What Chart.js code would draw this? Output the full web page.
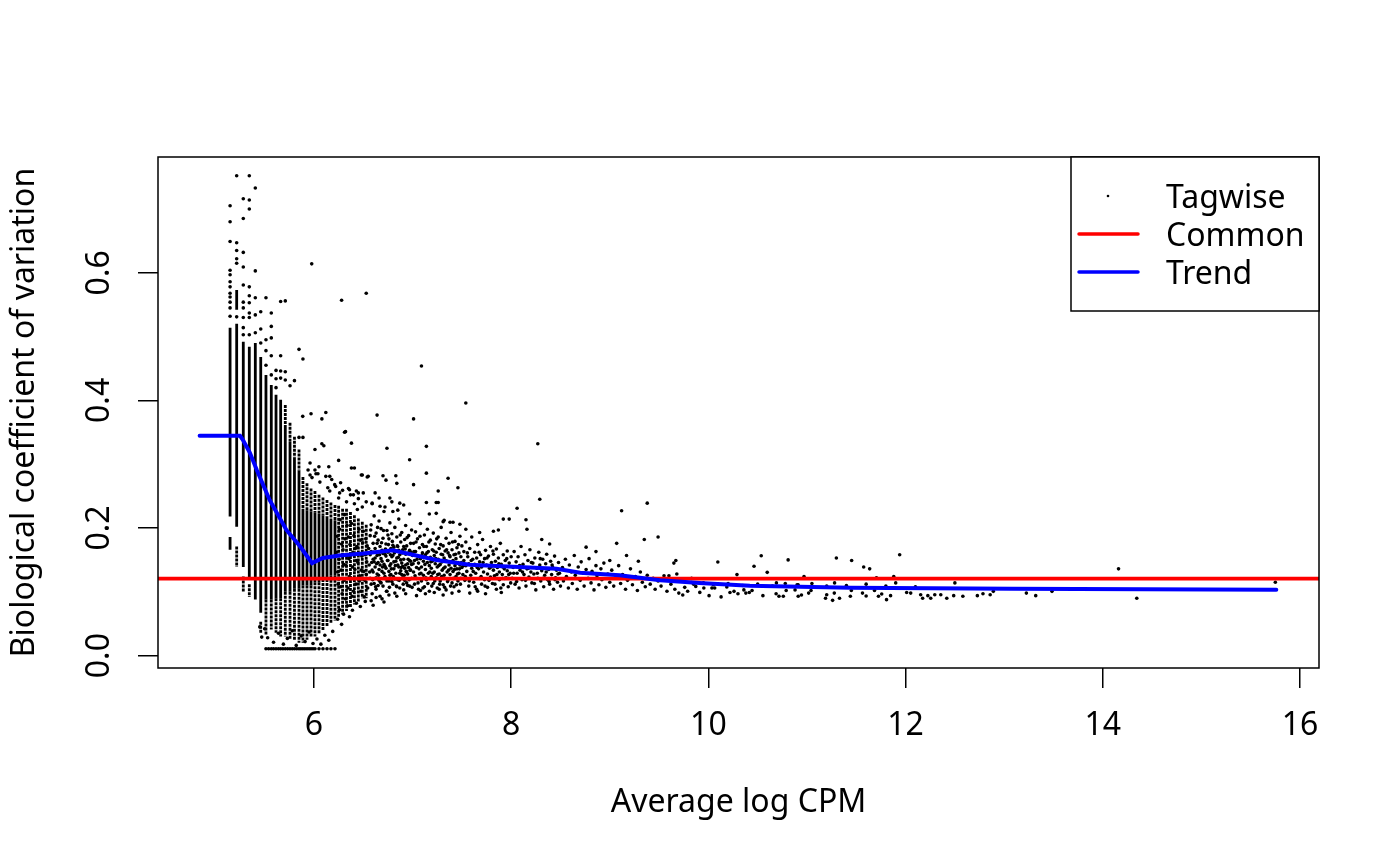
<!DOCTYPE html>
<html>
<head>
<meta charset="utf-8">
<script src="https://cdn.jsdelivr.net/npm/chart.js@4.4.1/dist/chart.umd.min.js"></script>
<style>html,body{margin:0;padding:0;background:#fff;}canvas{display:block;}</style>
</head>
<body>
<canvas id="c" width="1400" height="865"></canvas>
<script>
// ---------- data ----------
const xTicks = [6, 8, 10, 12, 14, 16];
const yTicks = [0.0, 0.2, 0.4, 0.6];
const xLimits = [4.418, 16.193];
const yLimits = [-0.0194, 0.7815];
const commonBCV = 0.1206;

const trendX = [4.84, 5.25, 5.28, 5.35, 5.42, 5.55, 5.72, 5.86, 5.98, 6.09, 6.26, 6.50, 6.80, 7.24, 7.58, 8.46, 8.70, 9.10, 9.51, 9.91, 10.42, 11.44, 13.07, 15.76];
const trendY = [0.3445, 0.3445, 0.338, 0.318, 0.291, 0.244, 0.197, 0.171, 0.145, 0.153, 0.157, 0.160, 0.165, 0.150, 0.1425, 0.136, 0.130, 0.126, 0.118, 0.114, 0.1096, 0.1065, 0.105, 0.1034];

// low-count genes stack into vertical columns: [x, yTop, yBottom]
const columnDense = [
  [5.149,0.514,0.218],[5.149,0.186,0.166],
  [5.216,0.573,0.542],[5.216,0.520,0.202],
  [5.283,0.492,0.139],[5.344,0.484,0.119],[5.405,0.490,0.088],[5.460,0.468,0.067],
  [5.513,0.440,0.088],[5.567,0.424,0.088],[5.615,0.409,0.090],[5.662,0.401,0.090],
  [5.709,0.360,0.100],[5.757,0.335,0.100],[5.802,0.310,0.105],[5.848,0.290,0.105],
  [5.888,0.230,0.110],[5.929,0.228,0.110],[5.970,0.226,0.110],[6.010,0.224,0.115],
  [6.051,0.222,0.115],[6.091,0.220,0.120],[6.132,0.218,0.120],[6.172,0.215,0.125],[6.213,0.212,0.125]
];
const columnSparse = [
  [5.216,0.171,0.139],[5.283,0.124,0.099],[5.344,0.112,0.092],[5.460,0.053,0.036],
  [5.513,0.088,0.033],[5.567,0.088,0.041],[5.615,0.090,0.036],[5.662,0.090,0.030],
  [5.709,0.393,0.360],[5.709,0.100,0.030],[5.757,0.365,0.335],[5.757,0.100,0.025],
  [5.802,0.343,0.310],[5.802,0.105,0.025],[5.848,0.323,0.290],[5.848,0.105,0.020],
  [5.888,0.280,0.230],[5.888,0.110,0.020],[5.929,0.270,0.228],[5.929,0.110,0.025],
  [5.970,0.262,0.226],[5.970,0.110,0.030],[6.010,0.258,0.224],[6.010,0.115,0.030],
  [6.051,0.252,0.222],[6.051,0.115,0.035],[6.091,0.248,0.220],[6.091,0.120,0.040],
  [6.132,0.244,0.218],[6.132,0.120,0.045],[6.172,0.240,0.215],[6.172,0.125,0.050],
  [6.213,0.236,0.212],[6.213,0.125,0.055],
  [6.25,0.235,0.060],[6.29,0.230,0.065],[6.33,0.230,0.070],[6.37,0.225,0.075],
  [6.41,0.220,0.080],[6.45,0.215,0.085],[6.49,0.210,0.090],[6.53,0.205,0.090]
];

// individual tagwise points [x, y]
const tagwiseSparse = [
  [5.149,0.705],[5.149,0.680],[5.149,0.649],[5.149,0.604],[5.149,0.597],[5.149,0.586],[5.149,0.578],[5.149,0.568],[5.149,0.562],[5.149,0.554],[5.149,0.545],[5.149,0.532],
  [5.216,0.752],[5.216,0.647],[5.216,0.635],[5.216,0.622],[5.216,0.615],[5.216,0.531],
  [5.283,0.716],[5.283,0.685],[5.283,0.632],[5.283,0.609],[5.283,0.581],[5.283,0.554],[5.283,0.545],[5.283,0.530],[5.283,0.514],[5.283,0.503],
  [5.344,0.752],[5.344,0.714],[5.344,0.700],[5.344,0.578],[5.344,0.564],[5.344,0.553],[5.344,0.537],[5.344,0.530],[5.344,0.503],
  [5.405,0.733],[5.405,0.603],[5.405,0.561],[5.405,0.534],[5.405,0.506],
  [5.460,0.539],[5.460,0.512],[5.460,0.490],
  [5.513,0.561],[5.513,0.495],[5.513,0.478],[5.513,0.455],
  [5.567,0.537],[5.567,0.516],[5.567,0.498],[5.567,0.470],[5.567,0.440],
  [5.615,0.447],[5.615,0.434],[5.615,0.420],
  [5.662,0.555],[5.662,0.470],[5.662,0.446],[5.662,0.435],
  [5.709,0.556],[5.709,0.445],[5.709,0.432],
  [5.757,0.423],[5.802,0.431],[5.848,0.480],[5.888,0.465],[5.886,0.375],[5.970,0.379],[6.12,0.381],[6.08,0.371],[6.32,0.351],
  [5.848,0.342],[5.888,0.342],[6.08,0.332],[5.977,0.614],[6.28,0.557],[6.53,0.568],[6.31,0.350],[6.38,0.333],[6.64,0.377],
  [6.74,0.325],[6.25,0.306],[6.01,0.323],[6.10,0.329],[6.38,0.294],[6.41,0.294],[6.49,0.283],[6.54,0.280],[6.70,0.282],
  [6.73,0.275],[6.01,0.291],[6.15,0.296],[7.09,0.454],[7.54,0.396],[7.01,0.371],[7.14,0.328],[6.97,0.307],[6.83,0.282],
  [7.14,0.286],[7.36,0.278],[7.01,0.268],[7.46,0.263],[7.26,0.258],[8.27,0.332],[8.29,0.245],[8.06,0.231],[9.12,0.227],
  [9.38,0.239],[9.49,0.186],[9.35,0.182],[9.07,0.176],[7.14,0.240],[7.26,0.240],[7.17,0.222],[7.92,0.214],[7.98,0.214],
  [8.15,0.213],[8.16,0.198],[7.87,0.197],[7.82,0.195],[7.68,0.193],[7.54,0.198],[7.48,0.206],[7.31,0.210],[7.38,0.209],
  [8.31,0.182],[8.39,0.175],[8.76,0.170],[8.86,0.163],[9.00,0.149],[9.17,0.157],[9.29,0.148],[9.65,0.145],[9.67,0.149],
  [5.96,0.283],[6.04,0.285],[6.16,0.281],[6.48,0.283],[6.55,0.281],[6.84,0.270],[7.24,0.240],[7.24,0.223],[7.32,0.212],
  [7.41,0.209],[6.77,0.247],[6.87,0.239],[6.59,0.239],[6.67,0.234],[6.26,0.255],[6.36,0.260],[6.40,0.252],[6.45,0.255]
];
const tagwiseFloor = [
  [5.513,0.0108],[5.54,0.0108],[5.567,0.0108],[5.59,0.0108],[5.615,0.0108],[5.64,0.0108],[5.662,0.0108],[5.685,0.0108],
  [5.709,0.0108],[5.733,0.0108],[5.757,0.0108],[5.78,0.0108],[5.802,0.0108],[5.825,0.0108],[5.848,0.0108],[5.868,0.0108],
  [5.888,0.0108],[5.908,0.0108],[5.929,0.0108],[5.95,0.0108],[5.970,0.0108],[5.99,0.0108],[6.010,0.0108],[6.051,0.0108],
  [6.091,0.0108],[6.132,0.0108],[6.172,0.0108],[6.213,0.0108],
  [5.53,0.028],[5.59,0.021],[5.64,0.035],[5.69,0.018],[5.73,0.027],[5.78,0.039],[5.82,0.016],[5.87,0.031],[5.91,0.022],
  [5.95,0.037],[5.99,0.019],[6.03,0.026],[6.07,0.018],[6.11,0.032],[6.15,0.024],[6.19,0.038],[5.50,0.042],[5.47,0.029],[5.45,0.045]
];
const tagwiseCloud = [
  [6.23,0.162],[6.24,0.131],[6.26,0.198],[6.27,0.108],[6.28,0.175],[6.30,0.143],[6.31,0.221],[6.32,0.089],[6.34,0.157],[6.35,0.186],
  [6.36,0.124],[6.38,0.207],[6.39,0.139],[6.40,0.101],[6.42,0.168],[6.43,0.149],[6.44,0.229],[6.46,0.117],[6.47,0.181],[6.48,0.134],
  [6.50,0.195],[6.51,0.092],[6.52,0.158],[6.53,0.127],[6.54,0.172],[6.25,0.247],[6.29,0.259],[6.33,0.241],[6.37,0.252],[6.41,0.238],
  [6.45,0.246],[6.49,0.233],[6.53,0.241],[6.26,0.072],[6.30,0.065],[6.34,0.078],[6.39,0.071],[6.43,0.082],[6.47,0.077],[6.52,0.085],
  [6.24,0.057],[6.28,0.049],[6.36,0.061],[6.21,0.268],[6.18,0.276],[6.14,0.263],[6.12,0.281],[6.06,0.272],[6.02,0.285],[5.98,0.279],
  [5.94,0.291],[5.96,0.302],[6.05,0.296],[6.16,0.258],[6.22,0.265],[6.27,0.271],[6.35,0.262],[6.43,0.258],[6.50,0.255],
  [6.56,0.142],[6.57,0.188],[6.57,0.121],[6.58,0.163],[6.58,0.205],[6.59,0.134],[6.59,0.097],[6.60,0.176],[6.60,0.151],[6.61,0.219],
  [6.61,0.113],[6.62,0.168],[6.62,0.139],[6.63,0.192],[6.63,0.104],[6.64,0.157],[6.64,0.128],[6.65,0.181],[6.65,0.146],[6.66,0.211],
  [6.66,0.118],[6.67,0.171],[6.67,0.093],[6.68,0.152],[6.68,0.199],[6.69,0.132],[6.69,0.165],[6.70,0.109],[6.70,0.184],[6.71,0.143],
  [6.71,0.226],[6.72,0.159],[6.72,0.124],[6.73,0.175],[6.73,0.137],[6.74,0.196],[6.74,0.101],[6.75,0.162],[6.75,0.149],[6.76,0.117],
  [6.76,0.183],[6.77,0.208],[6.77,0.141],[6.78,0.168],[6.78,0.127],[6.79,0.155],[6.79,0.191],[6.80,0.112],[6.80,0.173],[6.81,0.136],
  [6.81,0.147],[6.82,0.201],[6.82,0.098],[6.83,0.164],[6.83,0.129],[6.84,0.186],[6.84,0.153],[6.85,0.119],[6.85,0.171],[6.86,0.139],
  [6.86,0.214],[6.87,0.158],[6.87,0.106],[6.88,0.178],[6.88,0.133],[6.89,0.145],[6.89,0.193],[6.90,0.122],[6.90,0.166],[6.91,0.151],
  [6.91,0.103],[6.92,0.182],[6.92,0.137],[6.93,0.204],[6.93,0.159],[6.94,0.114],[6.94,0.172],[6.95,0.144],[6.95,0.128],[6.96,0.188],
  [6.96,0.161],[6.97,0.109],[6.97,0.149],[6.98,0.176],[6.98,0.134],[6.99,0.197],[6.99,0.121],[7.00,0.157],[6.58,0.112],[6.62,0.153],
  [6.66,0.135],[6.70,0.160],[6.74,0.117],[6.78,0.144],[6.82,0.120],[6.86,0.165],[6.90,0.140],[6.94,0.131],[6.98,0.148],[6.60,0.131],
  [6.64,0.176],[6.68,0.114],[6.72,0.140],[6.76,0.132],[6.80,0.157],[6.84,0.108],[6.88,0.150],[6.92,0.118],[6.96,0.138],[6.57,0.158],
  [6.61,0.147],[6.65,0.110],[6.69,0.148],[6.73,0.156],[6.77,0.126],[6.81,0.170],[6.85,0.142],[6.89,0.127],[6.93,0.142],[6.97,0.165],
  [6.63,0.122],[6.67,0.142],[6.71,0.129],[6.75,0.189],[6.79,0.116],[6.83,0.148],[6.87,0.129],[6.91,0.171],[6.95,0.110],[6.99,0.143],
  [6.58,0.086],[6.63,0.091],[6.69,0.089],[6.76,0.095],[6.84,0.093],[6.93,0.097],[6.60,0.079],[6.71,0.084],
  [6.59,0.238],[6.66,0.247],[6.72,0.233],[6.79,0.241],[6.85,0.228],[6.91,0.236],[6.97,0.222],[6.62,0.255],[6.80,0.226],
  [7.01,0.131],[7.01,0.176],[7.02,0.149],[7.02,0.112],[7.03,0.163],[7.03,0.194],[7.04,0.138],[7.04,0.121],[7.05,0.156],[7.05,0.183],
  [7.06,0.104],[7.06,0.145],[7.07,0.169],[7.07,0.128],[7.08,0.152],[7.08,0.207],[7.09,0.117],[7.09,0.139],[7.10,0.174],[7.10,0.161],
  [7.11,0.126],[7.11,0.148],[7.12,0.189],[7.12,0.108],[7.13,0.135],[7.13,0.158],[7.14,0.171],[7.14,0.119],[7.15,0.146],[7.15,0.198],
  [7.16,0.129],[7.16,0.163],[7.17,0.141],[7.17,0.101],[7.18,0.154],[7.18,0.181],[7.19,0.124],[7.19,0.137],[7.20,0.166],[7.20,0.148],
  [7.21,0.113],[7.21,0.192],[7.22,0.157],[7.22,0.131],[7.23,0.144],[7.23,0.175],[7.24,0.122],[7.24,0.162],[7.25,0.139],[7.25,0.106],
  [7.26,0.151],[7.26,0.186],[7.27,0.128],[7.27,0.168],[7.28,0.143],[7.28,0.117],[7.29,0.159],[7.29,0.201],[7.30,0.134],[7.30,0.147],
  [7.31,0.172],[7.31,0.111],[7.32,0.153],[7.32,0.126],[7.33,0.164],[7.33,0.139],[7.34,0.184],[7.34,0.103],[7.35,0.148],[7.35,0.131],
  [7.36,0.161],[7.36,0.119],[7.37,0.142],[7.37,0.176],[7.38,0.155],[7.38,0.127],[7.39,0.137],[7.39,0.193],[7.40,0.114],[7.40,0.166],
  [7.41,0.149],[7.41,0.132],[7.42,0.158],[7.42,0.108],[7.43,0.141],[7.43,0.179],[7.44,0.124],[7.44,0.152],[7.45,0.136],[7.45,0.169],
  [7.46,0.117],[7.46,0.146],[7.47,0.161],[7.47,0.129],[7.48,0.187],[7.48,0.142],[7.49,0.121],[7.49,0.155],[7.50,0.138],[7.50,0.172],
  [7.04,0.094],[7.13,0.097],[7.22,0.099],[7.31,0.095],[7.40,0.098],[7.47,0.101],[7.08,0.102],[7.27,0.104],
  [7.51,0.127],[7.52,0.149],[7.52,0.163],[7.53,0.118],[7.54,0.141],[7.54,0.178],[7.55,0.132],[7.56,0.155],[7.57,0.109],[7.57,0.144],
  [7.58,0.168],[7.59,0.126],[7.60,0.137],[7.60,0.186],[7.61,0.151],[7.62,0.115],[7.63,0.143],[7.63,0.162],[7.64,0.129],[7.65,0.104],
  [7.65,0.153],[7.66,0.174],[7.67,0.136],[7.68,0.121],[7.68,0.147],[7.69,0.158],[7.70,0.112],[7.70,0.139],[7.71,0.182],[7.72,0.131],
  [7.73,0.152],[7.73,0.119],[7.74,0.165],[7.75,0.142],[7.76,0.107],[7.76,0.128],[7.77,0.156],[7.78,0.137],[7.79,0.171],[7.79,0.123],
  [7.80,0.146],[7.81,0.113],[7.82,0.159],[7.82,0.134],[7.83,0.125],[7.84,0.148],[7.85,0.167],[7.85,0.104],[7.86,0.138],[7.87,0.153],
  [7.88,0.119],[7.88,0.131],[7.89,0.176],[7.90,0.143],[7.91,0.127],[7.92,0.111],[7.92,0.158],[7.93,0.136],[7.94,0.149],[7.95,0.122],
  [7.96,0.164],[7.96,0.133],[7.97,0.108],[7.98,0.145],[7.99,0.129],[8.00,0.155],[7.58,0.098],[7.74,0.097],[7.90,0.099],[7.66,0.101],
  [8.01,0.121],[8.02,0.138],[8.03,0.163],[8.04,0.112],[8.05,0.147],[8.06,0.129],[8.07,0.155],[8.08,0.106],[8.09,0.134],[8.10,0.171],
  [8.11,0.119],[8.12,0.143],[8.13,0.127],[8.14,0.158],[8.15,0.109],[8.16,0.136],[8.17,0.149],[8.18,0.123],[8.19,0.166],[8.20,0.131],
  [8.21,0.114],[8.22,0.145],[8.23,0.128],[8.24,0.153],[8.25,0.103],[8.26,0.137],[8.27,0.121],[8.28,0.162],[8.29,0.142],[8.30,0.117],
  [8.31,0.133],[8.32,0.151],[8.33,0.108],[8.34,0.126],[8.35,0.144],[8.36,0.159],[8.37,0.119],[8.38,0.135],[8.39,0.112],[8.40,0.148],
  [8.41,0.127],[8.42,0.139],[8.43,0.104],[8.44,0.156],[8.45,0.122],[8.46,0.134],[8.47,0.115],[8.48,0.146],[8.49,0.129],[8.50,0.109],
  [8.52,0.138],[8.53,0.117],[8.55,0.151],[8.56,0.124],[8.58,0.106],[8.59,0.142],[8.61,0.131],[8.62,0.113],[8.64,0.157],[8.65,0.126],
  [8.67,0.104],[8.68,0.139],[8.70,0.118],[8.71,0.147],[8.73,0.129],[8.74,0.109],[8.76,0.135],[8.78,0.121],[8.79,0.152],[8.81,0.114],
  [8.82,0.132],[8.84,0.103],[8.86,0.141],[8.87,0.125],[8.89,0.111],[8.91,0.136],[8.92,0.119],[8.94,0.145],[8.96,0.107],[8.98,0.128],
  [9.00,0.115],[9.02,0.134],[9.04,0.109],[9.06,0.122],[9.09,0.141],[9.11,0.113],[9.13,0.127],[9.16,0.104],[9.18,0.118],[9.21,0.136],
  [9.23,0.111],[9.26,0.124],[9.28,0.102],[9.31,0.131],[9.33,0.115],[9.36,0.108],[9.38,0.126],[9.41,0.112],[9.44,0.121],[9.46,0.104],
  [9.49,0.117],[9.52,0.109],[9.55,0.125],[9.58,0.101]
];
const tagwiseCore = [
  [6.555,0.168],[6.565,0.131],[6.575,0.197],[6.585,0.146],[6.595,0.119],[6.605,0.162],[6.615,0.187],[6.625,0.108],[6.635,0.144],[6.645,0.201],
  [6.655,0.126],[6.665,0.158],[6.675,0.115],[6.685,0.177],[6.695,0.139],[6.705,0.196],[6.715,0.121],[6.725,0.167],[6.735,0.101],[6.745,0.149],
  [6.755,0.174],[6.765,0.107],[6.775,0.158],[6.785,0.136],[6.795,0.179],[6.805,0.124],[6.815,0.161],[6.825,0.141],[6.835,0.109],[6.845,0.172],
  [6.855,0.154],[6.865,0.118],[6.875,0.189],[6.885,0.138],[6.895,0.161],[6.905,0.112],[6.915,0.126],[6.925,0.167],[6.935,0.132],[6.945,0.185],
  [6.955,0.151],[6.965,0.119],[6.975,0.134],[6.985,0.162],[6.995,0.107],
  [7.005,0.144],[7.015,0.163],[7.025,0.125],[7.035,0.178],[7.045,0.151],[7.055,0.114],[7.065,0.136],[7.075,0.187],[7.085,0.129],[7.095,0.157],
  [7.105,0.106],[7.115,0.171],[7.125,0.143],[7.135,0.122],[7.145,0.161],[7.155,0.113],[7.165,0.178],[7.175,0.131],[7.185,0.147],[7.195,0.109],
  [7.205,0.129],[7.215,0.164],[7.225,0.117],[7.235,0.152],[7.245,0.183],[7.255,0.127],[7.265,0.141],[7.275,0.112],[7.285,0.174],[7.295,0.124],
  [7.305,0.158],[7.315,0.137],[7.325,0.107],[7.335,0.149],[7.345,0.166],[7.355,0.116],[7.365,0.134],[7.375,0.157],[7.385,0.109],[7.395,0.147],
  [7.405,0.178],[7.415,0.121],[7.425,0.135],[7.435,0.159],[7.445,0.111],[7.455,0.128],[7.465,0.174],[7.475,0.136],[7.485,0.112],[7.495,0.146],
  [7.515,0.141],[7.535,0.124],[7.555,0.161],[7.575,0.117],[7.595,0.149],[7.615,0.132],[7.635,0.108],[7.655,0.138],[7.675,0.162],[7.695,0.124],
  [7.715,0.146],[7.735,0.109],[7.755,0.153],[7.775,0.118],[7.795,0.139],[7.815,0.164],[7.835,0.112],[7.855,0.127],[7.875,0.144],[7.895,0.106],
  [7.915,0.139],[7.935,0.121],[7.955,0.152],[7.975,0.127],[7.995,0.114],
  [8.025,0.129],[8.055,0.116],[8.085,0.141],[8.115,0.131],[8.145,0.118],[8.175,0.137],[8.205,0.146],[8.235,0.113],[8.265,0.129],[8.295,0.152],
  [8.325,0.121],[8.355,0.131],[8.385,0.116],[8.415,0.142],[8.445,0.119],[8.475,0.128],
  [6.235,0.187],[6.245,0.112],[6.255,0.151],[6.265,0.213],[6.275,0.134],[6.285,0.097],[6.295,0.166],[6.305,0.118],[6.315,0.183],[6.325,0.141],
  [6.335,0.204],[6.345,0.106],[6.355,0.152],[6.365,0.174],[6.375,0.121],[6.385,0.093],[6.395,0.162],[6.405,0.188],[6.415,0.135],[6.425,0.112],
  [6.435,0.171],[6.445,0.146],[6.455,0.198],[6.465,0.125],[6.475,0.101],[6.485,0.156],[6.495,0.177],[6.505,0.132],[6.515,0.118],[6.525,0.183],
  [6.535,0.147],[6.545,0.106]
];
const tagwiseHigh = [
  [9.62,0.112],[9.66,0.104],[9.70,0.098],[9.73,0.118],[9.76,0.107],[9.79,0.101],[9.83,0.121],[9.60,0.125],[9.68,0.128],[9.74,0.095],
  [9.872,0.1085],[9.913,0.0991],[9.954,0.106],[10.007,0.094],[10.036,0.106],[10.064,0.106],[10.129,0.092],[10.187,0.1075],[10.219,0.099],
  [10.26,0.1007],[10.30,0.097],[10.36,0.103],[10.38,0.098],[10.415,0.099],[10.443,0.102],[10.553,0.094],[10.687,0.097],[10.716,0.093],
  [10.76,0.093],[10.789,0.102],[10.879,0.103],[10.911,0.093],[10.944,0.095],[11.017,0.098],[11.041,0.102],[11.188,0.090],[11.20,0.0955],
  [11.26,0.0866],[11.277,0.098],[11.33,0.090],[11.44,0.093],[11.45,0.102],[11.563,0.098],[11.60,0.0935],[11.685,0.102],[11.725,0.093],
  [11.758,0.0966],[11.807,0.0877],[11.848,0.094],[12.011,0.099],[12.052,0.098],[12.153,0.0955],[12.173,0.090],[12.226,0.094],[12.255,0.090],
  [12.296,0.0955],[12.357,0.0955],[12.418,0.090],[12.488,0.094],[12.581,0.093],[12.728,0.094],[12.785,0.097],[12.858,0.0955],[12.89,0.1007],
  [13.225,0.098],[13.32,0.094],[13.485,0.1007],
  [9.85,0.112],[9.95,0.114],[10.05,0.111],[10.20,0.113],[10.35,0.110],[10.50,0.112],[10.65,0.109],[10.90,0.111],[11.05,0.113],[11.20,0.109],
  [11.40,0.110],[11.60,0.112],[11.80,0.109],[11.90,0.114],[12.10,0.108],
  [10.096,0.1467],[10.536,0.1566],[10.809,0.150],[10.463,0.140],[10.597,0.1305],[10.29,0.127],[11.298,0.153],[11.453,0.149],[11.575,0.139],
  [11.636,0.136],[11.94,0.158],[11.88,0.124],[11.705,0.122],[10.97,0.124],[14.16,0.136],[14.345,0.090],[15.75,0.115],[12.50,0.114],
  [11.28,0.114],[10.69,0.114],[10.78,0.113],[10.91,0.111]
];

// ---------- chart ----------
const FONT = 'Noto Sans';
const FSIZE = 32;
const toPts = arr => arr.map(p => ({x: p[0], y: p[1]}));
const toSegs = arr => {
  const out = [];
  arr.forEach(s => { out.push({x: s[0], y: s[1]}, {x: s[0], y: s[2]}, {x: s[0], y: null}); });
  return out;
};

const boxPlugin = {
  id: 'rbox',
  afterDraw(chart) {
    const {ctx, chartArea: a} = chart;
    ctx.save();
    ctx.strokeStyle = '#000';
    ctx.lineWidth = 1.5;
    ctx.strokeRect(a.left, a.top, a.right - a.left, a.bottom - a.top);
    // legend box (top-right, inside plot)
    const w = 248, h = 154;
    const lx = a.right - w, ly = a.top;
    ctx.fillStyle = '#fff';
    ctx.fillRect(lx, ly, w, h);
    ctx.strokeRect(lx, ly, w, h);
    const rows = [ly + 39, ly + 77, ly + 115];
    ctx.fillStyle = '#000';
    ctx.beginPath(); ctx.arc(lx + 37, rows[0], 1.3, 0, Math.PI * 2); ctx.fill();
    ctx.lineWidth = 3.5; ctx.lineCap = 'round';
    ctx.strokeStyle = '#ff0000';
    ctx.beginPath(); ctx.moveTo(lx + 8, rows[1]); ctx.lineTo(lx + 67, rows[1]); ctx.stroke();
    ctx.strokeStyle = '#0000ff';
    ctx.beginPath(); ctx.moveTo(lx + 8, rows[2]); ctx.lineTo(lx + 67, rows[2]); ctx.stroke();
    ctx.font = FSIZE + 'px "' + FONT + '"';
    ctx.textBaseline = 'middle';
    ctx.textAlign = 'left';
    ctx.fillStyle = '#000';
    ['Tagwise', 'Common', 'Trend'].forEach((t, i) => ctx.fillText(t, lx + 95, rows[i] + 3));
    ctx.restore();
  }
};

function draw() {
  const allPts = toPts([].concat(tagwiseSparse, tagwiseFloor, tagwiseCloud, tagwiseCore, tagwiseHigh));
  new Chart(document.getElementById('c'), {
    type: 'scatter',
    data: {
      datasets: [
        {type: 'line', label: 'colDense', data: toSegs(columnDense), borderColor: '#000', borderWidth: 2.8,
         pointRadius: 0, spanGaps: false, borderCapStyle: 'butt', order: 6},
        {type: 'line', label: 'colSparse', data: toSegs(columnSparse), borderColor: '#000', borderWidth: 2.8,
         borderDash: [3, 1], pointRadius: 0, spanGaps: false, borderCapStyle: 'butt', order: 5},
        {type: 'scatter', label: 'Tagwise', data: allPts, backgroundColor: '#000', borderWidth: 0,
         pointRadius: 1.8, order: 4},
        {type: 'line', label: 'Common', data: [{x: xLimits[0], y: commonBCV}, {x: xLimits[1], y: commonBCV}],
         borderColor: '#ff0000', borderWidth: 3.8, pointRadius: 0, order: 2},
        {type: 'line', label: 'Trend', data: trendX.map((x, i) => ({x: x, y: trendY[i]})),
         borderColor: '#0000ff', borderWidth: 4, pointRadius: 0, tension: 0, borderCapStyle: 'round', order: 1}
      ]
    },
    options: {
      responsive: false, devicePixelRatio: 1, animation: false, events: [],
      layout: {padding: {left: 0, right: 81, top: 157, bottom: 0}},
      plugins: {legend: {display: false}, tooltip: {enabled: false}},
      scales: {
        x: {
          type: 'linear', min: xLimits[0], max: xLimits[1],
          afterBuildTicks: s => { s.ticks = xTicks.map(v => ({value: v})); },
          afterFit: s => { s.height = 197; },
          ticks: {font: {family: FONT, size: FSIZE}, color: '#000', padding: 19, maxRotation: 0, autoSkip: false,
                  callback: v => String(v)},
          grid: {display: true, drawOnChartArea: false, drawTicks: true, tickLength: 20, color: '#000', lineWidth: 1.5},
          border: {display: false},
          title: {display: true, text: 'Average log CPM', color: '#000', font: {family: FONT, size: FSIZE, lineHeight: 1.2},
                  padding: {top: 0, bottom: 43}}
        },
        y: {
          type: 'linear', min: yLimits[0], max: yLimits[1],
          afterBuildTicks: s => { s.ticks = yTicks.map(v => ({value: v})); },
          afterFit: s => { s.width = 158; },
          ticks: {font: {family: FONT, size: FSIZE}, color: '#000', padding: 16, minRotation: 90, maxRotation: 90,
                  crossAlign: 'center', autoSkip: false, callback: v => v.toFixed(1)},
          grid: {display: true, drawOnChartArea: false, drawTicks: true, tickLength: 20, color: '#000', lineWidth: 1.5},
          border: {display: false},
          title: {display: true, text: 'Biological coefficient of variation', color: '#000',
                  font: {family: FONT, size: FSIZE, lineHeight: 1.2}, padding: {top: 6, bottom: 0}}
        }
      }
    },
    plugins: [boxPlugin]
  });
}
if (document.fonts && document.fonts.load) {
  document.fonts.load(FSIZE + 'px "Noto Sans"').then(draw, draw);
} else { draw(); }
</script>
</body>
</html>
